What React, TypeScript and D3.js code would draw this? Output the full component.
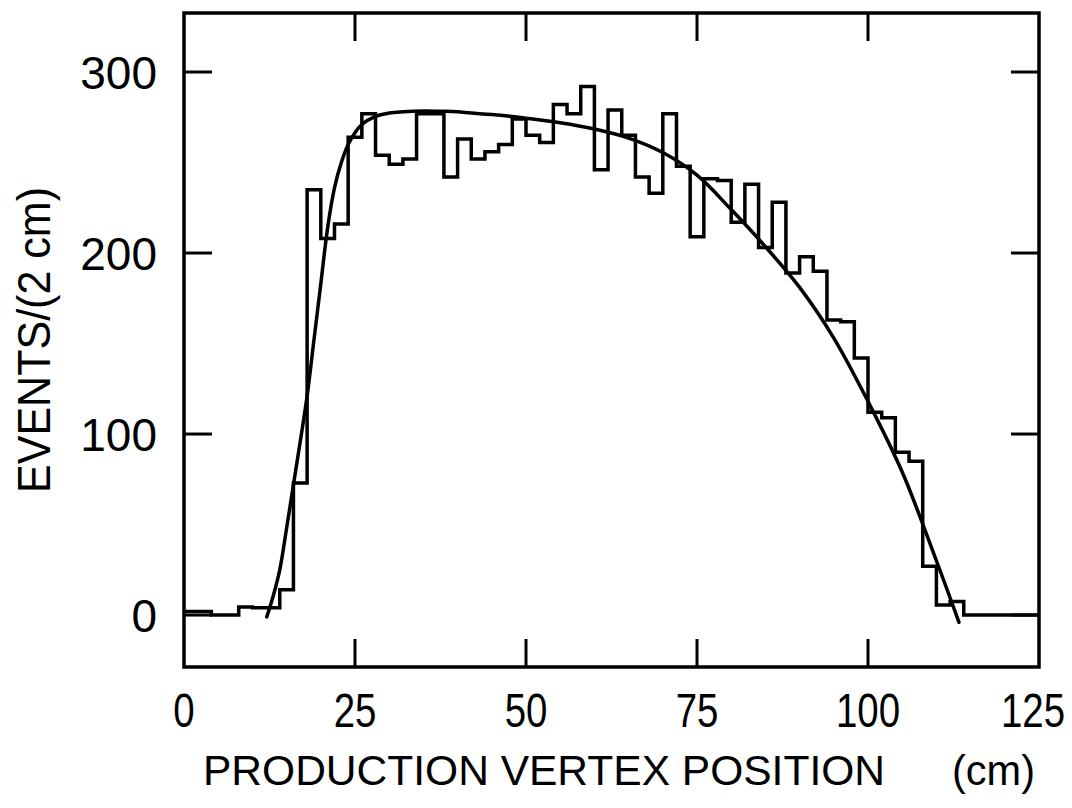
import React from "react";
import * as d3 from "d3";

// Histogram: left edges of the 2 cm bins and the number of events in each
const binStart: number[] = [
  0, 2, 4, 6, 8, 10, 12, 14, 16, 18, 20, 22, 24, 26, 28, 30, 32, 34, 36, 38,
  40, 42, 44, 46, 48, 50, 52, 54, 56, 58, 60, 62, 64, 66, 68, 70, 72, 74, 76,
  78, 80, 82, 84, 86, 88, 90, 92, 94, 96, 98, 100, 102, 104, 106, 108, 110,
  112, 114, 116, 118, 120, 122, 124,
];
const binCount: number[] = [
  2, 2, 0, 0, 4.5, 4, 4, 14, 73, 235, 208, 216, 264, 277, 254, 249, 252, 277,
  277, 242, 263, 252, 256, 260, 274, 265, 261, 282, 277, 292, 246, 279, 265,
  242, 233, 277, 248, 209, 241, 240, 217, 238, 203, 228, 189, 198, 190, 163,
  162, 142, 112, 109, 90, 85, 27, 5.5, 7.5, 0, 0, 0, 0, 0, 0,
];
const histEnd = 125;

// Fitted curve, sampled along the vertex position
const fitX: number[] = [
  12.1, 13, 14, 15, 16, 17, 18, 19, 20, 21, 22, 23, 24, 25, 26, 28, 30, 32, 35,
  38, 40, 42, 45, 50, 55, 60, 65, 70, 75, 80, 85, 90, 95, 100, 105, 110, 113.3,
];
const fitY: number[] = [
  -1, 10, 25, 48, 72, 96, 121, 152, 183, 214, 236, 250, 260, 266.5, 271,
  275.5, 277.3, 278, 278.5, 278.3, 278, 277.3, 276.5, 274.5, 272, 268.5, 263.5,
  255.5, 243, 224, 203.5, 181, 153, 118, 79, 30, -4,
];

const xTicks: number[] = [0, 25, 50, 75, 100, 125];
const yTicks: number[] = [0, 100, 200, 300];
const xTitle = "PRODUCTION VERTEX POSITION";
const xUnit = "(cm)";
const yTitle = "EVENTS/(2 cm)";

const W = 1072;
const H = 808;
const left = 184;
const right = 1039;
const top = 13;
const bottom = 667;

export default function App() {
  const x = d3.scaleLinear().domain([0, 125]).range([left, right]);
  const y = d3.scaleLinear().domain([-28.7, 332.6]).range([bottom, top]);

  const histPts: [number, number][] = binStart.map((s, i) => [s, binCount[i]]);
  histPts.push([histEnd, binCount[binCount.length - 1]]);
  const histPath =
    d3
      .line<[number, number]>()
      .x((d) => x(d[0]))
      .y((d) => y(d[1]))
      .curve(d3.curveStepAfter)(histPts) ?? "";

  const fitPts: [number, number][] = fitX.map((v, i) => [v, fitY[i]]);
  const fitPath =
    d3
      .line<[number, number]>()
      .x((d) => x(d[0]))
      .y((d) => y(d[1]))
      .curve(d3.curveCatmullRom.alpha(0.5))(fitPts) ?? "";

  const tickLen = 28;
  const font = "'Liberation Sans', Arial, sans-serif";
  const ink = "#000";
  const xLabelSquash = 0.8;

  return (
    <svg
      width={W}
      height={H}
      viewBox={`0 0 ${W} ${H}`}
      style={{ position: "absolute", left: 0, top: 0, display: "block", background: "#fff" }}
    >
      <rect x={0} y={0} width={W} height={H} fill="#fff" />

      {/* inward ticks on all four sides */}
      <g stroke={ink} strokeWidth={3}>
        {xTicks
          .filter((t) => t > 0 && t < 125)
          .map((t) => (
            <g key={`xt${t}`}>
              <line x1={x(t)} x2={x(t)} y1={bottom} y2={bottom - tickLen} />
              <line x1={x(t)} x2={x(t)} y1={top} y2={top + tickLen} />
            </g>
          ))}
        {yTicks.map((t) => (
          <g key={`yt${t}`}>
            <line x1={left} x2={left + tickLen} y1={y(t)} y2={y(t)} />
            <line x1={right} x2={right - tickLen} y1={y(t)} y2={y(t)} />
          </g>
        ))}
      </g>

      {/* frame */}
      <rect
        x={left}
        y={top}
        width={right - left}
        height={bottom - top}
        fill="none"
        stroke={ink}
        strokeWidth={3.5}
      />

      {/* histogram */}
      <path d={histPath} fill="none" stroke={ink} strokeWidth={3.5} strokeLinejoin="miter" />

      {/* fit */}
      <path d={fitPath} fill="none" stroke={ink} strokeWidth={3.5} strokeLinecap="round" />

      {/* tick labels */}
      <g fontFamily={font} fill={ink}>
        {xTicks.map((t) => {
          const cx = Math.min(x(t), 1033);
          return (
            <text
              key={`xl${t}`}
              transform={`translate(${cx}, 727) scale(${xLabelSquash}, 1)`}
              textAnchor="middle"
              fontSize={48}
            >
              {t}
            </text>
          );
        })}
        {yTicks.map((t) => (
          <text key={`yl${t}`} x={157} y={y(t) + 16.5} textAnchor="end" fontSize={46}>
            {t}
          </text>
        ))}
      </g>

      {/* axis titles */}
      <g fontFamily={font} fill={ink}>
        <text x={203} y={785} fontSize={42} textLength={682} lengthAdjust="spacingAndGlyphs">
          {xTitle}
        </text>
        <text x={952} y={785} fontSize={42} textLength={83} lengthAdjust="spacingAndGlyphs">
          {xUnit}
        </text>
        <text
          transform={`translate(50, 340) rotate(-90)`}
          textAnchor="middle"
          fontSize={46}
          textLength={306}
          lengthAdjust="spacingAndGlyphs"
        >
          {yTitle}
        </text>
      </g>
    </svg>
  );
}
